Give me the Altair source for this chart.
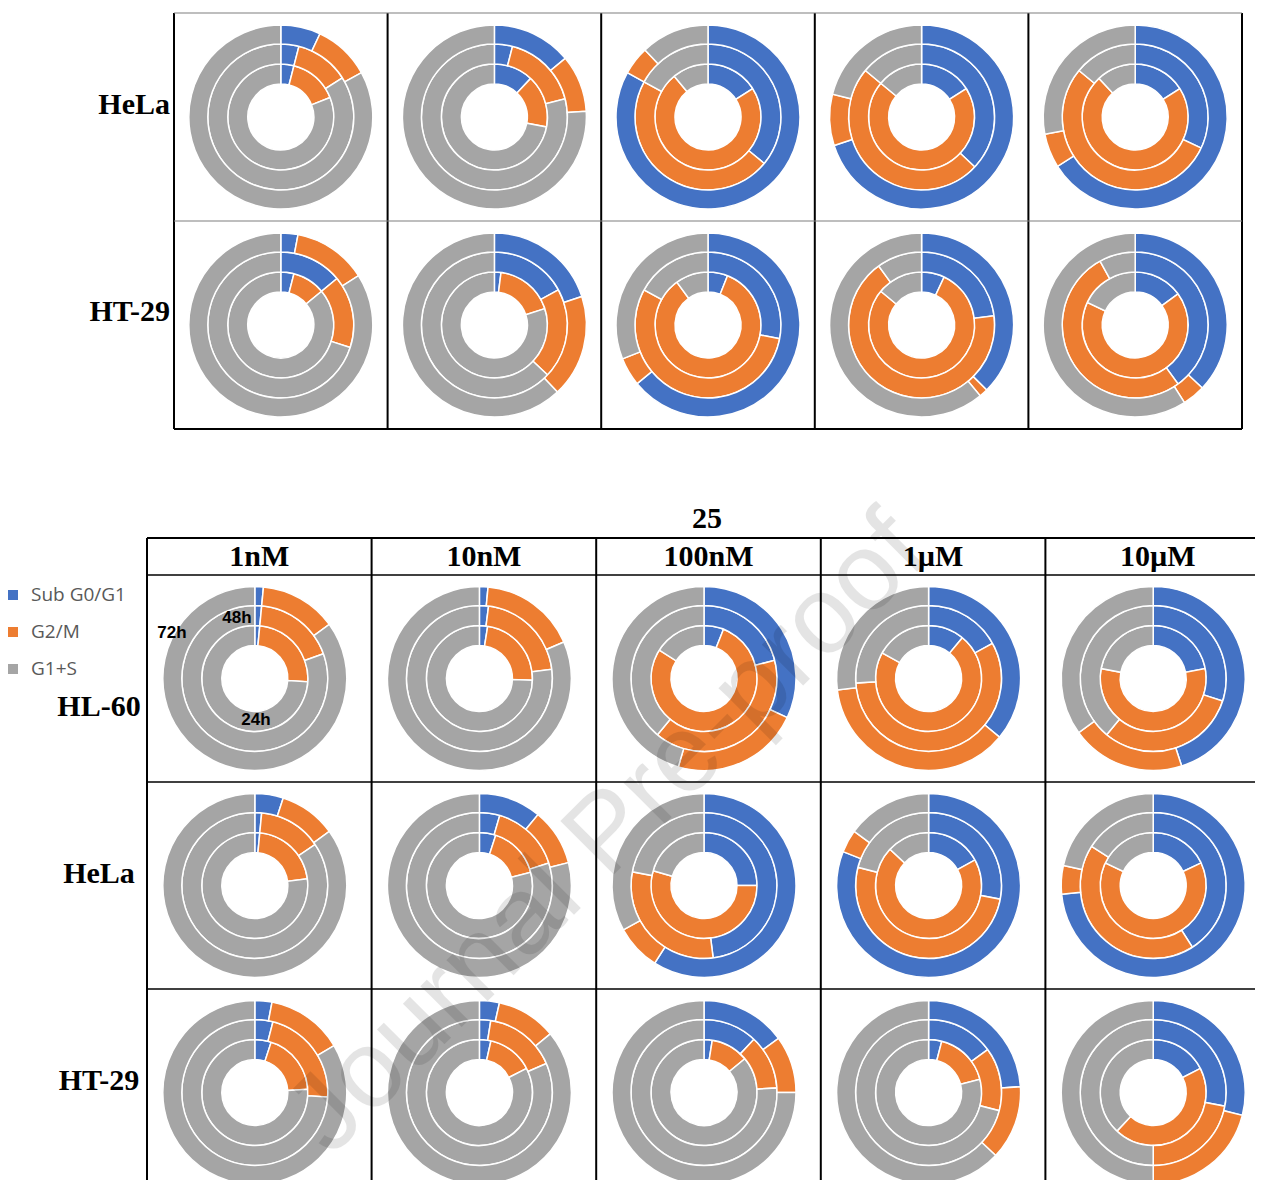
import math
import altair as alt
import pandas as pd

# ---------------- data (percent of cells) ----------------
PHASES = ["Sub G0/G1", "G2/M", "G1+S"]
RINGS = ["24h", "48h", "72h"]          # inner -> outer
DOSES = ["1nM", "10nM", "100nM", "1µM", "10µM"]
TOP_ROWS = ["HeLa", "HT-29"]
BOTTOM_ROWS = ["HL-60", "HeLa", "HT-29"]
BOTTOM_TITLE = "25"

# each list: [24h, 48h, 72h], each of those across the 5 doses
top_hela_sub = [[4, 12, 16, 16, 16], [4, 4, 36, 37, 32], [7, 14, 83, 70, 66]]
top_hela_g2m = [[15, 16, 73, 70, 72], [12, 17, 47, 49, 54], [10, 10, 5, 9, 6]]
top_hela_g1s = [[81, 72, 11, 14, 12], [84, 79, 17, 14, 14], [83, 76, 12, 21, 28]]

top_ht29_sub = [[4, 2, 6, 7, 15], [14, 17, 28, 23, 40], [3, 20, 64, 37.5, 37]]
top_ht29_g2m = [[10, 18, 84, 79, 67], [16, 20, 55, 67, 52], [13, 18, 5, 1.5, 4]]
top_ht29_g1s = [[86, 80, 10, 14, 18], [70, 63, 17, 10, 8], [84, 62, 31, 61, 59]]

hl60_sub = [[1.5, 2.5, 6, 11, 22], [1.5, 2, 21, 17, 30], [1.5, 1.5, 32, 36, 45]]
hl60_g2m = [[24.5, 23, 78, 72, 56], [18, 21, 40, 57, 31], [13.5, 17, 22.5, 37, 20]]
hl60_g1s = [[74, 74.5, 16, 17, 22], [80.5, 77, 39, 26, 39], [85, 81.5, 45.5, 27, 35]]

hela_sub = [[1.5, 5, 25, 17, 18], [1.5, 4.5, 48, 28, 41], [5, 11, 59, 81, 73.5]]
hela_g2m = [[21.5, 16, 54.5, 70, 64], [14, 15.5, 30, 51, 43], [10, 10, 8, 4, 5]]
hela_g1s = [[77, 79, 20.5, 13, 18], [84.5, 80, 22, 21, 16], [85, 79, 33, 15, 21.5]]

ht29_sub = [[5, 3.5, 2.5, 4, 17.5], [4, 2.5, 12, 15, 28], [3, 3.5, 15, 24, 29]]
ht29_g2m = [[19, 14, 11.5, 17, 44.5], [22, 16, 12, 14, 22], [13.5, 10.5, 10, 13, 21]]
ht29_g1s = [[76, 82.5, 86, 79, 38], [74, 81.5, 76, 71, 50], [83.5, 86, 75, 63, 50]]

# ---------------- styling / layout ----------------
COLORS = ["#4472C4", "#ED7D31", "#A5A5A5"]
RADII = [33, 53, 73, 92]
SERIF = "Liberation Serif"
SANS = "Liberation Sans"


def build(groups):
    recs = []
    for r, (sub, g2m, g1s) in enumerate(groups):
        for k, ring in enumerate(RINGS):
            for c in range(len(DOSES)):
                vals = [sub[k][c], g2m[k][c], g1s[k][c]]
                tot = sum(vals)
                acc = 0.0
                for p, v in zip(PHASES, vals):
                    recs.append(dict(row=r, col=c, ring=ring, phase=p, value=v,
                                     t0=acc / tot, t1=(acc + v) / tot))
                    acc += v
    return pd.DataFrame(recs)


top_df = build([(top_hela_sub, top_hela_g2m, top_hela_g1s),
                (top_ht29_sub, top_ht29_g2m, top_ht29_g1s)])
bot_df = build([(hl60_sub, hl60_g2m, hl60_g1s),
                (hela_sub, hela_g2m, hela_g1s),
                (ht29_sub, ht29_g2m, ht29_g1s)])

color_scale = alt.Scale(domain=PHASES, range=COLORS)
theta_scale = alt.Scale(domain=[0, 1], range=[0, 2 * math.pi])


def arc_layers(df, xs, ys, xoff):
    base = alt.Chart(df).transform_calculate(
        cx=f"datum.col + {xoff}", cy="datum.row + 0.5"
    ).encode(
        x=alt.X("cx:Q", scale=xs, axis=None),
        y=alt.Y("cy:Q", scale=ys, axis=None),
        theta=alt.Theta("t0:Q", scale=theta_scale, stack=False),
        theta2="t1:Q",
        color=alt.Color("phase:N", scale=color_scale, legend=None),
    )
    out = []
    for k, ring in enumerate(RINGS):
        out.append(
            base.transform_filter(alt.datum.ring == ring).mark_arc(
                radius2=RADII[k], radius=RADII[k + 1],
                stroke="white", strokeWidth=1.5, clip=True)
        )
    return out


# ---------------- top block ----------------
TOP_W, TOP_H = 1247, 470
xs_top = alt.Scale(domain=[0, 5], range=[166, 1234], nice=False, zero=False)
ys_top = alt.Scale(domain=[0, 2], range=[5, 421], nice=False, zero=False)

vlines_top = pd.DataFrame({"xb": list(range(6)), "y0": 0, "y1": 2})
hlines_top = pd.DataFrame({"yb": [0, 1, 2], "x0": 0, "x1": 5})

top_layers = arc_layers(top_df, xs_top, ys_top, 0.5)
top_layers.append(
    alt.Chart(vlines_top).mark_rule(color="black", strokeWidth=2).encode(
        x=alt.X("xb:Q", scale=xs_top), y=alt.Y("y0:Q", scale=ys_top), y2="y1:Q")
)
top_layers.append(
    alt.Chart(hlines_top).transform_filter("datum.yb < 2").mark_rule(
        color="#7f7f7f", strokeWidth=1.2).encode(
        y=alt.Y("yb:Q", scale=ys_top), x=alt.X("x0:Q", scale=xs_top), x2="x1:Q")
)
top_layers.append(
    alt.Chart(hlines_top).transform_filter("datum.yb == 2").mark_rule(
        color="black", strokeWidth=2).encode(
        y=alt.Y("yb:Q", scale=ys_top), x=alt.X("x0:Q", scale=xs_top), x2="x1:Q")
)
top_labels = pd.DataFrame({"label": TOP_ROWS, "yl": [0.442, 1.438]})
top_layers.append(
    alt.Chart(top_labels).mark_text(
        font=SERIF, fontWeight="bold", fontSize=30, align="right",
        baseline="middle", color="black").encode(
        x=alt.value(162), y=alt.Y("yl:Q", scale=ys_top), text="label:N")
)
top = alt.layer(*top_layers).properties(width=TOP_W, height=TOP_H)

# ---------------- bottom block ----------------
BOT_W, BOT_H = 1247, 702
COLW, ROWH = 224.6, 207
xs_bot = alt.Scale(domain=[0, 5], range=[139, 139 + 5 * COLW], nice=False, zero=False)
ys_bot = alt.Scale(domain=[0, 3], range=[97, 97 + 3 * ROWH], nice=False, zero=False)

vlines_bot = pd.DataFrame({"xb": list(range(6))})
hlines_bot = pd.DataFrame({"yb": [0, 1, 2, 3], "x0": 0, "x1": 5})
header_line = pd.DataFrame({"x0": [0], "x1": [5]})

bot_layers = arc_layers(bot_df, xs_bot, ys_bot, 0.48)
bot_layers.append(
    alt.Chart(vlines_bot).mark_rule(color="black", strokeWidth=2, clip=True).encode(
        x=alt.X("xb:Q", scale=xs_bot), y=alt.value(60), y2=alt.value(BOT_H))
)
bot_layers.append(
    alt.Chart(hlines_bot).mark_rule(color="black", strokeWidth=1.6, clip=True).encode(
        y=alt.Y("yb:Q", scale=ys_bot), x=alt.X("x0:Q", scale=xs_bot), x2="x1:Q")
)
bot_layers.append(
    alt.Chart(header_line).mark_rule(color="black", strokeWidth=2, clip=True).encode(
        y=alt.value(60), x=alt.X("x0:Q", scale=xs_bot), x2="x1:Q")
)
dose_df = pd.DataFrame({"dose": DOSES, "xc": [i + 0.5 for i in range(5)]})
bot_layers.append(
    alt.Chart(dose_df).mark_text(
        font=SERIF, fontWeight="bold", fontSize=30, baseline="middle",
        color="black").encode(
        x=alt.X("xc:Q", scale=xs_bot), y=alt.value(79), text="dose:N")
)
bot_layers.append(
    alt.Chart(pd.DataFrame({"t": [BOTTOM_TITLE]})).mark_text(
        font=SERIF, fontWeight="bold", fontSize=30, baseline="middle",
        color="black").encode(x=alt.value(699), y=alt.value(41), text="t:N")
)
bot_labels = pd.DataFrame({"label": BOTTOM_ROWS, "yl": [0.638, 1.444, 2.444]})
bot_layers.append(
    alt.Chart(bot_labels).mark_text(
        font=SERIF, fontWeight="bold", fontSize=30, align="center",
        baseline="middle", color="black").encode(
        x=alt.value(91), y=alt.Y("yl:Q", scale=ys_bot), text="label:N")
)
# legend
for i, ph in enumerate(PHASES):
    one = pd.DataFrame({"phase": [ph]})
    bot_layers.append(
        alt.Chart(one).mark_square(size=100, opacity=1).encode(
            x=alt.value(5), y=alt.value(117 + 37 * i),
            color=alt.Color("phase:N", scale=color_scale, legend=None))
    )
    bot_layers.append(
        alt.Chart(one).mark_text(
            font="Open Sans", fontSize=19, align="left", baseline="middle",
            color="#595959").encode(
            x=alt.value(23), y=alt.value(117 + 37 * i), text="phase:N")
    )
# ring labels on the first panel
for txt, px, py in [("72h", 164, 155), ("48h", 229, 140), ("24h", 248, 242)]:
    bot_layers.append(
        alt.Chart(pd.DataFrame({"t": [txt]})).mark_text(
            font=SANS, fontWeight="bold", fontSize=17, baseline="middle",
            color="black").encode(x=alt.value(px), y=alt.value(py), text="t:N")
    )
# watermark
bot_layers.append(
    alt.Chart(pd.DataFrame({"t": ["Journal Pre-proof"]})).mark_text(
        font=SANS, fontSize=110, angle=315, baseline="middle", align="center",
        color="black", opacity=0.1).encode(
        x=alt.value(600), y=alt.value(356), text="t:N")
)
bottom = alt.layer(*bot_layers).properties(width=BOT_W, height=BOT_H)

chart = alt.vconcat(top, bottom, spacing=0, bounds="flush").properties(
    padding=0).configure_view(stroke=None)

chart.save("out.html", embed_options={"renderer": "svg", "actions": False})
